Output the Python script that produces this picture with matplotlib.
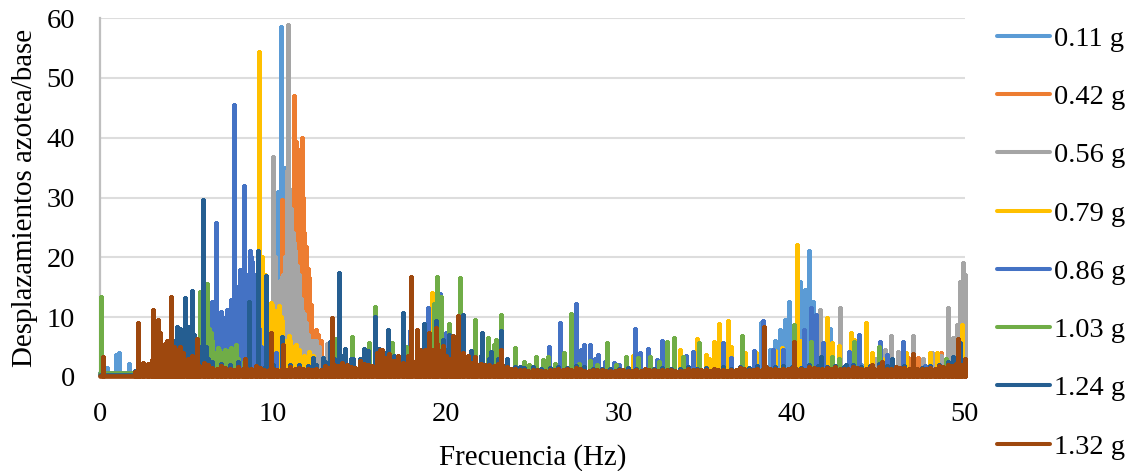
import numpy as np
import matplotlib
matplotlib.use("Agg")
import matplotlib.pyplot as plt

plt.rcParams['font.family'] = ['Liberation Serif', 'DejaVu Serif']

labels = ['0.11 g', '0.42 g', '0.56 g', '0.79 g', '0.86 g', '1.03 g', '1.24 g', '1.32 g']
colors = ['#5B9BD5', '#ED7D31', '#A5A5A5', '#FFC000', '#4472C4', '#70AD47', '#255E91', '#9E480E']
x_ticks = [0, 10, 20, 30, 40, 50]
y_ticks = [0, 10, 20, 30, 40, 50, 60]

f_011 = [0.4, 0.9, 1.1, 1.7, 2.5, 3.5, 9.7, 10.0, 10.2, 10.3, 10.45, 10.6, 10.7, 10.85, 11.0, 11.5, 12.1, 12.5,
         14.0, 18.0, 22.0, 38.2, 38.7, 39.0, 39.3, 39.6, 39.8, 40.0, 40.46, 40.6, 40.75, 40.9, 41.0, 41.2, 41.35, 41.6, 42.2, 44.0, 48.0]
a_011 = [1.5, 3.6, 4.0, 2.2, 1.2, 1.5, 10.0, 22.0, 30.0, 31.0, 58.5, 34.0, 35.0, 30.0, 18.0, 12.0, 16.3, 5.0,
         2.0, 2.0, 2.0, 9.0, 4.5, 6.0, 7.8, 9.5, 12.5, 6.5, 15.9, 8.0, 14.5, 9.0, 21.0, 12.5, 9.0, 6.0, 8.0, 2.0, 2.0]

f_042 = [9.5, 10.5, 10.7, 11.05, 11.1, 11.2, 11.25, 11.35, 11.45, 11.55, 11.65, 11.75, 11.8, 11.9, 12.0, 12.1, 12.2, 12.4, 12.5, 12.6,
         12.8, 13.2, 17.0, 25.0, 46.7, 47.0, 47.3, 48.6, 49.0, 49.2]
a_042 = [5.0, 29.6, 15.6, 20.0, 30.0, 46.9, 38.0, 39.3, 36.5, 38.0, 39.9, 30.0, 24.0, 21.8, 18.0, 16.5, 12.0, 7.0, 7.8, 7.0,
         6.0, 3.5, 2.0, 1.5, 3.2, 3.6, 3.2, 4.0, 5.4, 4.0]

f_056 = [9.8, 10.0, 10.1, 10.2, 10.3, 10.4, 10.5, 10.6, 10.7, 10.8, 10.88, 10.95, 11.05, 11.15, 11.2, 11.3, 11.4, 11.5, 11.6, 11.7,
         11.8, 11.9, 12.0, 12.2, 12.35, 12.5, 12.65, 13.1, 16.0, 28.0, 41.2, 41.6, 42.8,
         44.8, 45.4, 45.7, 46.1, 46.4, 47.0, 47.6, 48.1, 48.6, 49.0, 49.3, 49.55, 49.7, 49.9, 50.0]
a_056 = [6.0, 36.8, 20.0, 14.0, 14.0, 16.0, 16.7, 17.0, 20.0, 34.4, 58.8, 31.5, 28.0, 24.0, 22.4, 21.0, 18.5, 17.0, 13.0, 11.0,
         10.6, 9.0, 7.0, 6.0, 6.0, 6.0, 5.0, 5.5, 2.0, 1.5, 5.5, 11.2, 11.5,
         3.0, 4.5, 6.8, 4.2, 3.5, 6.8, 3.0, 4.0, 3.5, 11.6, 6.5, 8.7, 15.8, 19.1, 17.0]

f_079 = [9.19, 9.37, 9.55, 9.7, 9.88, 9.95, 10.1, 10.2, 10.35, 10.45, 10.5, 10.7, 10.9, 11.0, 11.2, 11.35, 11.5, 11.8, 12.1, 12.3,
         19.17, 21.0, 30.8, 33.5, 34.5, 35.0, 35.2, 35.5,
         35.8, 36.3, 36.5, 37.3, 37.9, 39.0, 39.4, 40.27, 40.5, 42.0, 42.3, 42.7, 43.4, 43.6, 44.3, 44.6,
         45.2, 46.6, 48.0, 48.4, 49.8]
a_079 = [54.4, 20.1, 17.0, 8.0, 12.3, 12.0, 11.0, 9.0, 11.8, 10.0, 9.3, 6.0, 6.8, 6.0, 5.0, 5.3, 4.5, 3.5, 4.2, 3.5,
         14.0, 3.0, 3.5, 4.5, 6.3, 3.6, 3.0, 5.9,
         8.9, 9.3, 5.0, 4.0, 4.0, 4.3, 4.8, 22.0, 6.0, 9.8, 5.6, 5.2, 7.4, 6.2, 9.0, 4.0,
         3.0, 4.0, 4.0, 4.0, 8.7]

f_086 = [5.5, 6.3, 6.47, 6.58, 6.7, 6.85, 6.93, 7.0, 7.08, 7.15, 7.2, 7.28, 7.34, 7.45, 7.52, 7.6, 7.68, 7.76, 7.84, 7.9, 7.98, 8.09,
         8.17, 8.25, 8.32, 8.4, 8.5, 8.58, 8.67, 8.73, 8.8, 8.88, 8.95, 9.0, 9.05, 9.2, 9.3, 9.45, 9.65, 9.75, 9.9,
         10.2, 16.0, 17.9, 18.97, 19.65, 20.0, 22.0, 25.96, 26.6, 27.2, 27.5, 27.8, 28.0, 28.3, 28.6, 28.8,
         29.2, 29.7, 30.0, 30.9, 31.2, 31.7, 32.2, 32.5, 33.9, 34.3, 36.0, 36.5, 37.8, 38.3, 38.9, 39.5, 40.7,
         41.1, 41.4, 41.8, 43.3, 43.9, 45.1, 45.5, 45.8, 46.4, 47.7, 49.0]
a_086 = [3.0, 6.0, 12.6, 10.0, 25.7, 8.0, 9.0, 10.9, 8.0, 6.0, 9.0, 10.0, 11.2, 10.0, 11.0, 12.9, 12.0, 45.5, 13.0, 14.0, 15.0, 17.9,
         17.0, 14.0, 31.9, 17.0, 15.0, 17.0, 21.0, 20.0, 19.3, 17.0, 13.0, 14.0, 9.0, 8.0, 5.0, 4.0, 5.0, 5.0, 5.0,
         4.0, 4.5, 7.7, 11.5, 13.9, 7.3, 3.0, 5.0, 9.0, 4.0, 12.2, 4.5, 5.3, 5.3, 3.0, 3.7,
         2.5, 2.4, 2.0, 8.0, 4.0, 4.7, 2.9, 6.0, 3.5, 4.2, 5.7, 3.2, 4.3, 9.4, 4.5, 4.5, 7.9,
         11.6, 10.4, 5.6, 4.2, 7.0, 5.8, 3.7, 1.5, 5.9, 1.8, 2.5]

f_103 = [0.05, 3.0, 5.2, 5.5, 5.78, 5.9, 6.17, 6.3, 6.4, 6.5, 6.6, 6.8, 6.9, 7.0, 7.1, 7.2, 7.3, 7.4, 7.5, 7.56, 7.7, 7.86, 8.0, 8.3, 8.6,
         13.6, 14.56, 15.55, 15.9, 16.9, 17.7, 19.3, 19.5, 19.7, 20.2, 20.8, 21.7, 22.4, 22.8, 22.9, 23.16, 24.0,
         24.5, 24.8, 25.2, 25.6, 25.9, 26.3, 26.8, 27.2, 27.7, 28.3, 28.7, 29.3, 29.8, 30.4, 31.1, 31.8, 32.3, 32.8, 33.2, 33.7, 34.6, 37.1, 40.1,
         41.1, 42.3, 42.7, 43.6, 45.0, 48.9]
a_103 = [13.3, 1.2, 2.0, 4.0, 14.2, 8.0, 15.6, 8.0, 7.3, 6.0, 4.0, 4.8, 4.5, 3.2, 4.0, 4.5, 4.0, 3.0, 4.5, 4.8, 3.0, 5.3, 3.0, 2.5, 2.5,
         6.3, 6.7, 5.6, 11.7, 5.7, 5.0, 12.2, 16.7, 13.4, 8.9, 16.5, 9.5, 6.5, 5.3, 6.2, 10.3, 4.9,
         2.5, 2.0, 3.4, 2.8, 3.4, 2.2, 4.0, 10.5, 2.2, 2.6, 2.0, 5.6, 2.0, 3.4, 3.2, 3.4, 2.5, 5.8, 6.5, 3.4, 5.7, 6.8, 8.7,
         5.9, 3.4, 3.0, 5.9, 5.0, 3.0]

f_124 = [3.6, 4.0, 4.2, 4.45, 4.6, 4.7, 4.8, 4.9, 5.05, 5.15, 5.3, 5.45, 5.6, 5.8, 5.97, 6.1, 6.25, 8.6, 9.13, 9.58, 10.5, 12.3, 12.9, 13.3, 13.8, 14.16, 14.6, 15.27,
         15.5, 15.9, 16.1, 16.65, 17.5, 18.7, 19.4, 19.85, 20.2, 21.0, 21.45, 22.1, 22.6, 23.16, 23.5, 24.3,
         41.7, 43.1, 45.8, 49.3, 49.7]
a_124 = [3.0, 5.0, 6.0, 8.4, 8.0, 5.5, 7.0, 13.2, 8.0, 8.4, 14.4, 7.0, 6.0, 5.0, 29.6, 5.0, 3.0, 12.6, 21.0, 16.9, 6.7, 3.2, 3.2, 5.8, 17.4, 4.7, 3.0, 4.7,
         4.3, 10.0, 4.7, 7.8, 10.7, 8.9, 9.3, 6.2, 7.0, 10.4, 4.4, 7.4, 4.2, 7.7, 3.0, 1.6,
         3.4, 2.0, 3.0, 3.4, 5.7]

f_132 = [0.17, 2.2, 3.07, 3.33, 3.47, 3.6, 3.75, 3.85, 3.96, 4.13, 4.25, 4.4, 4.6, 4.8, 5.1, 5.3, 5.6, 8.4, 9.9, 10.56, 13.4, 16.0, 16.2, 16.3, 16.7, 17.2,
         17.8, 18.0, 18.3, 18.8, 19.0, 19.4, 19.85, 20.4, 20.7, 21.0, 21.7, 23.16, 38.4, 40.1, 44.6, 45.2, 47.0, 49.6, 50.0]
a_132 = [3.4, 9.0, 11.2, 9.5, 7.3, 5.0, 5.5, 6.0, 5.8, 13.3, 5.0, 4.5, 5.0, 4.0, 3.0, 3.5, 6.3, 3.0, 7.3, 5.3, 9.9, 4.0, 4.5, 4.5, 3.9, 3.5,
         3.5, 16.7, 7.9, 4.5, 7.4, 8.2, 5.2, 6.8, 10.2, 3.5, 3.4, 4.5, 8.4, 5.9, 2.0, 2.5, 3.8, 6.3, 3.0]

ripple_f = [2.0, 2.5, 3.0, 3.5, 4.0, 4.5, 5.0, 5.5, 6.0, 6.5, 7.0, 7.5, 8.0, 8.5, 9.0, 9.5, 10.0, 10.5, 11.0, 11.5,
            12.0, 12.5, 13.0, 13.5, 14.0, 14.5, 15.0, 15.5, 16.0, 16.5, 17.0, 17.5, 18.0, 18.5, 19.0, 19.5, 20.0,
            20.5, 21.0, 21.5, 22.0, 22.5, 23.0, 23.5, 24.0, 24.5, 25.0, 25.5, 26.0, 26.5, 27.0, 27.5, 28.0, 28.5,
            29.0, 29.5, 30.0, 30.5, 31.0, 31.5, 32.0, 32.5, 33.0, 33.5, 34.0, 34.5, 35.0, 35.5, 36.0, 36.5, 37.0,
            37.5, 38.0, 38.5, 39.0, 39.5, 40.0, 40.5, 41.0, 41.5, 42.0, 42.5, 43.0, 43.5, 44.0, 44.5, 45.0, 45.5,
            46.0, 46.5, 47.0, 47.5, 48.0, 48.5, 49.0, 49.5]
ripple_mid_f = [2.25, 2.75, 3.25, 3.75, 4.25, 4.75, 5.25, 5.75, 6.25, 6.75, 7.25, 7.75, 8.25, 8.75, 9.25, 9.75, 10.25, 10.75, 11.25, 11.75,
                12.25, 12.75, 13.25, 13.75, 14.25, 14.75, 15.25, 15.75, 16.25, 16.75, 17.25, 17.75, 18.25, 18.75, 19.25, 19.75, 20.25,
                20.75, 21.25, 21.75, 22.25, 22.75, 23.25, 23.75, 24.25, 24.75, 25.25, 25.75, 26.25, 26.75, 27.25, 27.75, 28.25, 28.75,
                29.25, 29.75, 30.25, 30.75, 31.25, 31.75, 32.25, 32.75, 33.25, 33.75, 34.25, 34.75, 35.25, 35.75, 36.25, 36.75, 37.25,
                37.75, 38.25, 38.75, 39.25, 39.75, 40.25, 40.75, 41.25, 41.75, 42.25, 42.75, 43.25, 43.75, 44.25, 44.75, 45.25, 45.75,
                46.25, 46.75, 47.25, 47.75, 48.25, 48.75, 49.25, 49.75]
ripple_132 = [0.8, 2.4, 2.8, 2.5, 2.6, 2.2, 2.6, 2.0, 2.4, 1.5, 1.8, 1.3, 1.6, 1.4, 1.9, 1.2, 1.4, 1.3, 1.6, 1.5,
              1.4, 1.3, 1.8, 2.0, 2.4, 1.6, 2.6, 2.0, 3.0, 3.2, 2.6, 2.4, 3.0, 4.5, 5.0, 5.5, 3.5,
              4.5, 4.0, 2.4, 2.2, 2.0, 2.2, 1.6, 1.3, 1.1, 1.2, 1.0, 1.2, 1.4, 1.3, 1.5, 1.0, 1.2,
              1.1, 1.0, 1.2, 1.0, 1.1, 1.3, 1.1, 1.2, 1.1, 1.0, 1.3, 1.2, 1.1, 1.3, 1.1, 1.2, 1.5,
              1.2, 1.3, 1.6, 1.3, 1.4, 1.5, 1.3, 1.7, 1.4, 1.5, 1.6, 1.4, 1.7, 1.4, 1.5, 1.6, 1.4,
              1.7, 1.5, 1.6, 1.4, 1.5, 1.8, 2.0, 2.2]
ripple_mid_132 = [1.4, 2.2, 2.4, 2.2, 2.3, 2.0, 2.2, 1.8, 2.0, 1.4, 1.5, 1.2, 1.4, 1.3, 1.5, 1.1, 1.2, 1.2, 1.4, 1.3,
                  1.2, 1.2, 1.5, 1.8, 2.0, 1.5, 2.2, 1.8, 2.6, 2.8, 2.3, 2.2, 2.6, 4.0, 4.5, 4.5, 3.0,
                  3.8, 3.5, 2.2, 2.0, 1.8, 2.0, 1.4, 1.2, 1.0, 1.1, 1.0, 1.1, 1.2, 1.2, 1.3, 1.0, 1.1,
                  1.0, 1.0, 1.1, 1.0, 1.0, 1.2, 1.0, 1.1, 1.0, 1.0, 1.2, 1.1, 1.0, 1.2, 1.0, 1.1, 1.3,
                  1.1, 1.2, 1.4, 1.2, 1.3, 1.3, 1.2, 1.5, 1.3, 1.3, 1.4, 1.3, 1.5, 1.3, 1.4, 1.4, 1.3,
                  1.5, 1.4, 1.4, 1.3, 1.4, 1.6, 1.8, 2.0]
ripple_124 = [1.0, 1.5, 2.0, 2.5, 2.4, 3.0, 4.0, 3.5, 3.0, 2.5, 2.2, 2.0, 2.5, 2.0, 1.8, 1.5, 2.0, 2.5, 2.0, 2.0,
              1.8, 2.0, 2.5, 3.0, 3.5, 3.0, 3.0, 3.5, 3.5, 4.0, 3.5, 3.5, 4.0, 4.5, 4.5, 5.0, 4.5,
              4.5, 4.0, 3.5, 3.5, 3.0, 3.0, 2.0, 1.6, 1.5, 1.6, 1.4, 1.5, 1.6, 1.5, 1.8, 1.6, 1.4,
              1.3, 1.4, 1.3, 1.5, 1.4, 1.3, 1.4, 1.5, 1.4, 1.3, 1.6, 1.4, 1.5, 1.4, 1.6, 1.4, 1.6,
              1.5, 1.8, 1.5, 1.6, 1.8, 1.6, 1.5, 2.0, 1.8, 1.6, 1.8, 1.6, 2.0, 1.6, 1.8, 2.2, 1.8,
              1.6, 1.8, 1.6, 1.5, 1.8, 2.0, 2.5, 3.0]

series_f = [f_011, f_042, f_056, f_079, f_086, f_103, f_124, f_132]
series_a = [a_011, a_042, a_056, a_079, a_086, a_103, a_124, a_132]
floors = [0.6, 0.4, 0.5, 0.5, 0.7, 0.6, 0.3, 0.2]
ripples = [None, None, None, None, None, None, [(ripple_f, ripple_124)],
           [(ripple_f, ripple_132), (ripple_mid_f, ripple_mid_132)]]


def spike_path(freq, amp, floor, ripple):
    """Polyline that rises to each read peak from the series floor."""
    pairs = list(zip(freq, amp))
    for rf, ra in (ripple or []):
        pairs += list(zip(rf, ra))
    pairs.sort()
    xs, ys = [0.0], [floor]
    for fx, ay in pairs:
        xs += [fx, fx, fx]
        ys += [floor, ay, floor]
    xs.append(50.0)
    ys.append(floor)
    return xs, ys


W, H = 1137, 471
fig = plt.figure(figsize=(W / 100, H / 100), dpi=100)
ax = fig.add_axes([100 / W, 1 - 377 / H, 865 / W, 359 / H])

for fq, am, fl, rp, col, lab in zip(series_f, series_a, floors, ripples, colors, labels):
    xs, ys = spike_path(fq, am, fl, rp)
    ax.plot(xs, ys, color=col, lw=3.4, label=lab, solid_joinstyle='round',
            solid_capstyle='round', clip_on=False, zorder=3)

ax.set_xlim(0, 50)
ax.set_ylim(0, 60)
ax.set_xticks(x_ticks)
ax.set_yticks(y_ticks)
ax.tick_params(axis='both', length=0, labelsize=20.4, colors='black')
ax.tick_params(axis='x', pad=18)
ax.tick_params(axis='y', pad=18)
ax.grid(axis='y', color='#DDDDDD', lw=1.5, zorder=0)
ax.set_axisbelow(True)
for s in ['top', 'right']:
    ax.spines[s].set_visible(False)
for s in ['left', 'bottom']:
    ax.spines[s].set_color('#BFBFBF')
    ax.spines[s].set_linewidth(1.6)
ax.set_xlabel('Frecuencia (Hz)', fontsize=20.9, va='center')
ax.xaxis.set_label_coords(0.5, (377 - 458) / 359)
ax.set_ylabel('Desplazamientos azotea/base', fontsize=20.9, va='center')
ax.yaxis.set_label_coords((25 - 100) / 865, 0.5)

leg = ax.legend(loc='upper left', bbox_to_anchor=(997 / W, 1 - 26 / H), bbox_transform=fig.transFigure,
                frameon=False, fontsize=20.5, handlelength=1.85, handletextpad=0.15, labelspacing=1.135,
                borderpad=0, borderaxespad=0)
for line in leg.get_lines():
    line.set_linewidth(2.9)

fig.savefig('out.png', dpi=100)
